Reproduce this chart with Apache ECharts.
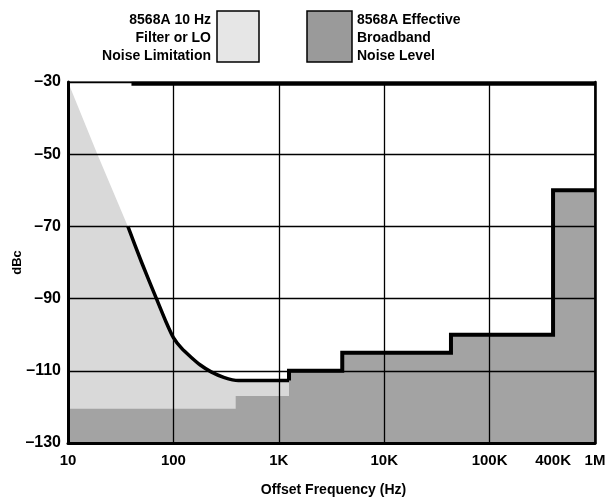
<!DOCTYPE html>
<html>
<head>
<meta charset="utf-8">
<script src="https://cdn.jsdelivr.net/npm/echarts@6/dist/echarts.min.js"></script>
<style>
html,body{margin:0;padding:0;background:#fff;}
#c{width:614px;height:498px;}
</style>
</head>
<body>
<div id="c"></div>
<script>
// ---- data ----
const xTickValues = [10, 100, 1000, 10000, 100000, 400000, 1000000];
const xTickLabels = ['10', '100', '1K', '10K', '100K', '400K', '1M'];

// 10 Hz filter / LO noise limitation region (upper boundary)
const lightFreq = [10, 10.4, 19, 37, 50, 69, 85, 100, 120, 148, 180, 228, 300, 413, 1250];
const lightDbc  = [-30, -30, -50, -70, -80, -90, -96.4, -100.8, -103.8, -106.3, -108.4, -110.3, -111.8, -112.7, -112.7];

// effective broadband noise level region (upper boundary)
const darkFreq = [10, 390, 390, 1250, 1250, 4000, 4000, 43000, 43000, 400000, 400000, 1000000];
const darkDbc  = [-120.5, -120.5, -117, -117, -110, -110, -105, -105, -100, -100, -60, -60];

// black curve
const curveFreq = [37, 50, 69, 85, 100, 120, 148, 180, 228, 300, 413, 1250];
const curveDbc  = [-70, -80, -90, -96.4, -100.8, -103.8, -106.3, -108.4, -110.3, -111.8, -112.7, -112.7];

// black step line
const stepFreq = [1250, 1250, 4000, 4000, 43000, 43000, 400000, 400000, 1000000];
const stepDbc  = [-112.7, -110, -110, -105, -105, -100, -100, -60, -60];

// top line
const topFreq = [40, 1000000];
const topDbc  = [-30.5, -30.5];

const zip = (a, b) => a.map((v, i) => [v, b[i]]);

const FONT = '"Liberation Sans", Arial, sans-serif';
const chart = echarts.init(document.getElementById('c'), null, {renderer: 'canvas'});

const labelMap = {};
xTickValues.forEach((v, i) => labelMap[v] = xTickLabels[i]);

chart.setOption({
  animation: false,
  backgroundColor: '#fff',
  grid: {left: 68, right: 19, top: 82, bottom: 55, show: true, borderColor: '#000', borderWidth: 1.2, z: 6,
    outerBoundsMode: 'none', containLabel: false},
  xAxis: {
    type: 'log', logBase: 10, min: 10, max: 1000000, z: 5,
    axisLine: {show: true, lineStyle: {color: '#000', width: 3}},
    axisTick: {show: false},
    splitLine: {show: true, lineStyle: {color: '#000', width: 1.3}},
    axisLabel: {
      customValues: xTickValues,
      formatter: v => labelMap[Math.round(v)] || '',
      color: '#000', fontFamily: FONT, fontWeight: 'bold', fontSize: 15, margin: 10
    },
    name: 'Offset Frequency (Hz)', nameLocation: 'middle', nameGap: 40,
    nameTextStyle: {color: '#000', fontFamily: FONT, fontWeight: 'bold', fontSize: 14, padding: [0, 0, 0, 4]}
  },
  yAxis: [{
    type: 'value', min: -130, max: -30, interval: 20, z: 5,
    axisLine: {show: true, lineStyle: {color: '#000', width: 3}},
    axisTick: {show: false},
    splitLine: {show: true, lineStyle: {color: '#000', width: 1.3}},
    axisLabel: {
      formatter: v => String(v).replace('-', '\u2013'),
      color: '#000', fontFamily: FONT, fontWeight: 'bold', fontSize: 16, margin: 7
    },
    name: 'dBc', nameLocation: 'middle', nameGap: 44, nameRotate: 90, nameMoveOverlap: false,
    nameTextStyle: {color: '#000', fontFamily: FONT, fontWeight: 'bold', fontSize: 13}
  }, {
    type: 'value', min: -130, max: -30, position: 'right', z: 5,
    axisLine: {show: true, lineStyle: {color: '#000', width: 2.5}},
    axisTick: {show: false}, axisLabel: {show: false}, splitLine: {show: false}
  }],
  series: [
    {
      name: '8568A 10 Hz Filter or LO Noise Limitation', type: 'line', z: 1,
      data: zip(lightFreq, lightDbc), showSymbol: false,
      lineStyle: {width: 0}, areaStyle: {color: '#d9d9d9', opacity: 1, origin: 'start'}
    },
    {
      name: '8568A Effective Broadband Noise Level', type: 'line', z: 2,
      data: zip(darkFreq, darkDbc), showSymbol: false,
      lineStyle: {width: 0}, areaStyle: {color: '#a3a3a3', opacity: 1, origin: 'start'}
    },
    {
      type: 'line', z: 7, data: zip(curveFreq, curveDbc), showSymbol: false,
      smooth: 0.2, lineStyle: {color: '#000', width: 3.5, join: 'round'}
    },
    {
      type: 'line', z: 7, data: zip(stepFreq, stepDbc), showSymbol: false,
      lineStyle: {color: '#000', width: 4, join: 'miter'}
    },
    {
      type: 'line', z: 7, data: zip(topFreq, topDbc), showSymbol: false,
      lineStyle: {color: '#000', width: 4}
    }
  ],
  graphic: [
    {type: 'rect', shape: {x: 217, y: 11, width: 42, height: 51}, style: {fill: '#e6e6e6', stroke: '#000', lineWidth: 1.5}},
    {type: 'text', style: {x: 211, y: 11, text: '8568A 10 Hz\nFilter or LO\nNoise Limitation', align: 'right', verticalAlign: 'top',
      font: 'bold 14px ' + FONT, lineHeight: 18, fill: '#000'}},
    {type: 'rect', shape: {x: 307, y: 11, width: 45, height: 51}, style: {fill: '#9a9a9a', stroke: '#000', lineWidth: 1.5}},
    {type: 'text', style: {x: 357, y: 11, text: '8568A Effective\nBroadband\nNoise Level', align: 'left', verticalAlign: 'top',
      font: 'bold 14px ' + FONT, lineHeight: 18, fill: '#000'}}
  ]
});
</script>
</body>
</html>
